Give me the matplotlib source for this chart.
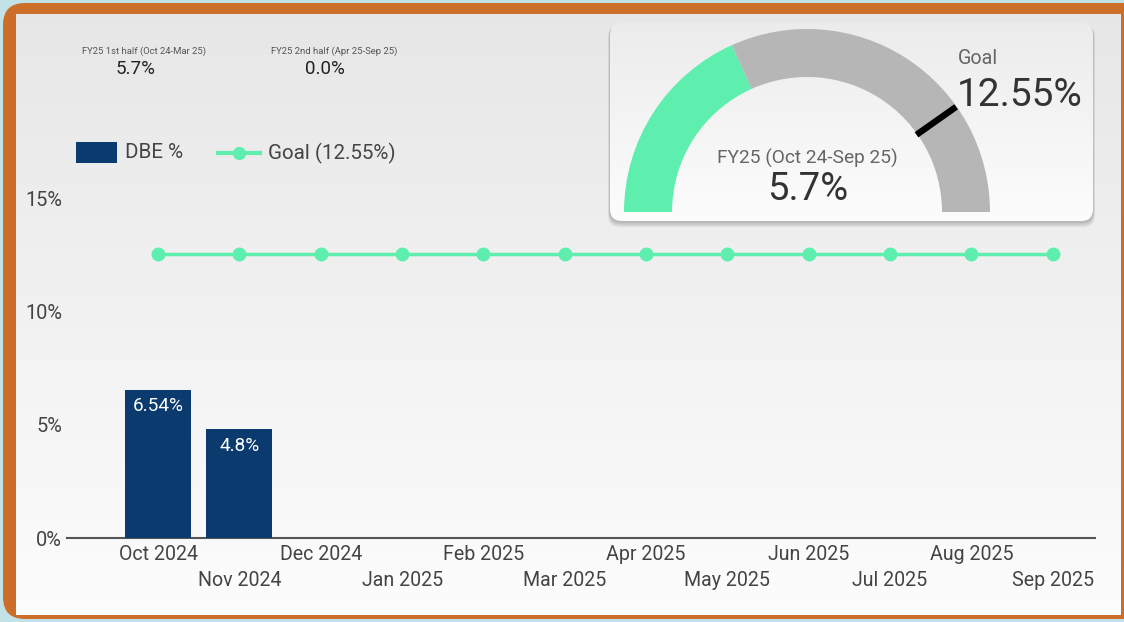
import numpy as np
import matplotlib
matplotlib.use("Agg")
import matplotlib.pyplot as plt
from matplotlib.patches import FancyBboxPatch, Wedge, Rectangle
import matplotlib.transforms as mtransforms

plt.rcParams['font.family'] = ['Roboto', 'DejaVu Sans']

# ---------------- data ----------------
months = ["Oct 2024", "Nov 2024", "Dec 2024", "Jan 2025", "Feb 2025", "Mar 2025",
          "Apr 2025", "May 2025", "Jun 2025", "Jul 2025", "Aug 2025", "Sep 2025"]
dbe_values = [6.54, 4.8]            # only first two months reported
goal_values = [12.55] * 12
bar_labels = ["6.54%", "4.8%"]
series_names = ["DBE %", "Goal (12.55%)"]
yticks = [0, 5, 10, 15]
ytick_labels = ["0%", "5%", "10%", "15%"]

half_titles = ["FY25 1st half (Oct 24-Mar 25)", "FY25 2nd half (Apr 25-Sep 25)"]
half_values = ["5.7%", "0.0%"]

gauge_value = 5.7
gauge_goal = 12.55
gauge_max = 15.6
gauge_title = "FY25 (Oct 24-Sep 25)"
gauge_value_label = "5.7%"
gauge_goal_title = "Goal"
gauge_goal_label = "12.55%"

# ---------------- colours ----------------
NAVY = "#0b3a6e"
MINT = "#5eeeae"
GREY_ARC = "#b6b6b6"
ORANGE = "#cc6e2a"
TEAL = "#c3e2e7"
TXT = "#444444"

W, H = 1124, 622
fig = plt.figure(figsize=(W / 100, H / 100), dpi=100)
fig.patch.set_facecolor(TEAL)

# overlay axes in pixel coords (y down)
ov = fig.add_axes([0, 0, 1, 1], zorder=0)
ov.set_xlim(0, W)
ov.set_ylim(H, 0)
ov.axis("off")

# orange frame
ov.add_patch(FancyBboxPatch((3, 3), W + 20, H - 6, boxstyle="round,pad=0,rounding_size=22",
                            fc=ORANGE, ec="none", zorder=0))
# inner gradient background
grad = np.linspace(0, 1, 256).reshape(-1, 1)
c_top = np.array([0.905, 0.905, 0.905])
c_bot = np.array([0.99, 0.99, 0.99])
img = c_top + (c_bot - c_top) * grad[..., None]
img = np.repeat(img, 2, axis=1)
ov.imshow(img, extent=(16, 1121, 615, 14), aspect="auto", zorder=1, interpolation="bilinear")

# gauge card with shadow
for i, a in enumerate([0.05, 0.05, 0.06, 0.07]):
    off = 4 - i
    ov.add_patch(FancyBboxPatch((610 - off * 0.5, 24 + off * 0.3), 483 + off, 198 + off,
                                boxstyle="round,pad=0,rounding_size=12",
                                fc="black", ec="none", alpha=a, zorder=2))
card_grad = np.linspace(0, 1, 256).reshape(-1, 1)
ct = np.array([0.925, 0.925, 0.925])
cb = np.array([0.99, 0.99, 0.99])
cimg = ct + (cb - ct) * card_grad[..., None]
cimg = np.repeat(cimg, 2, axis=1)
card = FancyBboxPatch((610, 23), 483, 198, boxstyle="round,pad=0,rounding_size=12",
                      fc="none", ec="none", zorder=3)
ov.add_patch(card)
im = ov.imshow(cimg, extent=(610, 1093, 221, 23), aspect="auto", zorder=3, interpolation="bilinear")
im.set_clip_path(card)

# gauge arcs (pixel coords, y down)
cx, cy, R, w = 807, 212, 183, 48
frac_v = gauge_value / gauge_max
frac_g = gauge_goal / gauge_max
ang_v = 180 - 180 * frac_v
ov.add_patch(Wedge((cx, cy), R, -180, -ang_v, width=w, fc=MINT, ec="none", zorder=4))
ov.add_patch(Wedge((cx, cy), R, -ang_v, 0, width=w, fc=GREY_ARC, ec="none", zorder=4))
ang_g = np.deg2rad(180 - 180 * frac_g)
r1, r2 = R - w - 1, R - 0.5
ov.plot([cx + r1 * np.cos(ang_g), cx + r2 * np.cos(ang_g)],
        [cy - r1 * np.sin(ang_g), cy - r2 * np.sin(ang_g)],
        color="black", lw=4.6, solid_capstyle="butt", zorder=5)

ov.text(cx, 158, gauge_title, ha="center", va="center", fontsize=13.8, color="#666666", zorder=6)
ov.text(cx + 1, 190, gauge_value_label, ha="center", va="center", fontsize=27.5, color="#333333", zorder=6)
ov.text(958, 58, gauge_goal_title, ha="left", va="center", fontsize=14.2, color="#666666", zorder=6)
ov.text(957, 96, gauge_goal_label, ha="left", va="center", fontsize=28, color="#333333", zorder=6)

# half-year scorecards
for xt, xv, t, v in zip([144, 334], [136, 325], half_titles, half_values):
    ov.text(xt, 51, t, ha="center", va="center", fontsize=6.8, color="#555555",
            fontstretch="condensed", zorder=6)
    ov.text(xv, 69, v, ha="center", va="center", fontsize=13.5, color="#222222", zorder=6)

# legend (manual)
ov.add_patch(Rectangle((76, 142), 41, 21, fc=NAVY, ec="none", zorder=6))
ov.text(125, 153, series_names[0], ha="left", va="center", fontsize=14.8, color=TXT, zorder=6)
ov.plot([218, 260], [153, 153], color=MINT, lw=3, zorder=6)
ov.plot([239], [153], "o", color=MINT, ms=8.5, zorder=6)
ov.text(268, 153, series_names[1], ha="left", va="center", fontsize=14.8, color=TXT, zorder=6)

# ---------------- main chart ----------------
ax_left = 67 / W
ax_w = (1095 - 67) / W
ax_bot = (H - 538) / H
ax_h = (538 - 198) / H
ax = fig.add_axes([ax_left, ax_bot, ax_w, ax_h], zorder=5)
ax.patch.set_alpha(0)
x = np.arange(len(months))
bars = ax.bar(x[:len(dbe_values)], dbe_values, width=0.81, color=NAVY, zorder=3)
for b, lab in zip(bars, bar_labels):
    ax.text(b.get_x() + b.get_width() / 2, b.get_height() - 0.95, lab, ha="center", va="baseline",
            color="white", fontsize=13.7, zorder=4)
ax.plot(x, goal_values, color=MINT, lw=2.5, marker="o", ms=9, zorder=4, clip_on=False)

ax.set_xlim(-1.12, 11.52)
ax.set_ylim(0, 15)
ax.set_yticks(yticks)
ax.set_yticklabels(ytick_labels)
ax.set_xticks([])
for s in ["top", "right", "left"]:
    ax.spines[s].set_visible(False)
ax.spines["bottom"].set_color("#555555")
ax.spines["bottom"].set_linewidth(1.5)
ax.tick_params(axis="y", length=0, pad=3.5, labelsize=14.4, labelcolor=TXT)

trans = mtransforms.blended_transform_factory(ax.transData, ax.transAxes)
for i, m in enumerate(months):
    yoff = -0.05 if i % 2 == 0 else -0.124
    ax.text(i, yoff, m, transform=trans, ha="center", va="center", fontsize=14.1, color=TXT)

fig.savefig("out.png", dpi=100, facecolor=fig.get_facecolor())
